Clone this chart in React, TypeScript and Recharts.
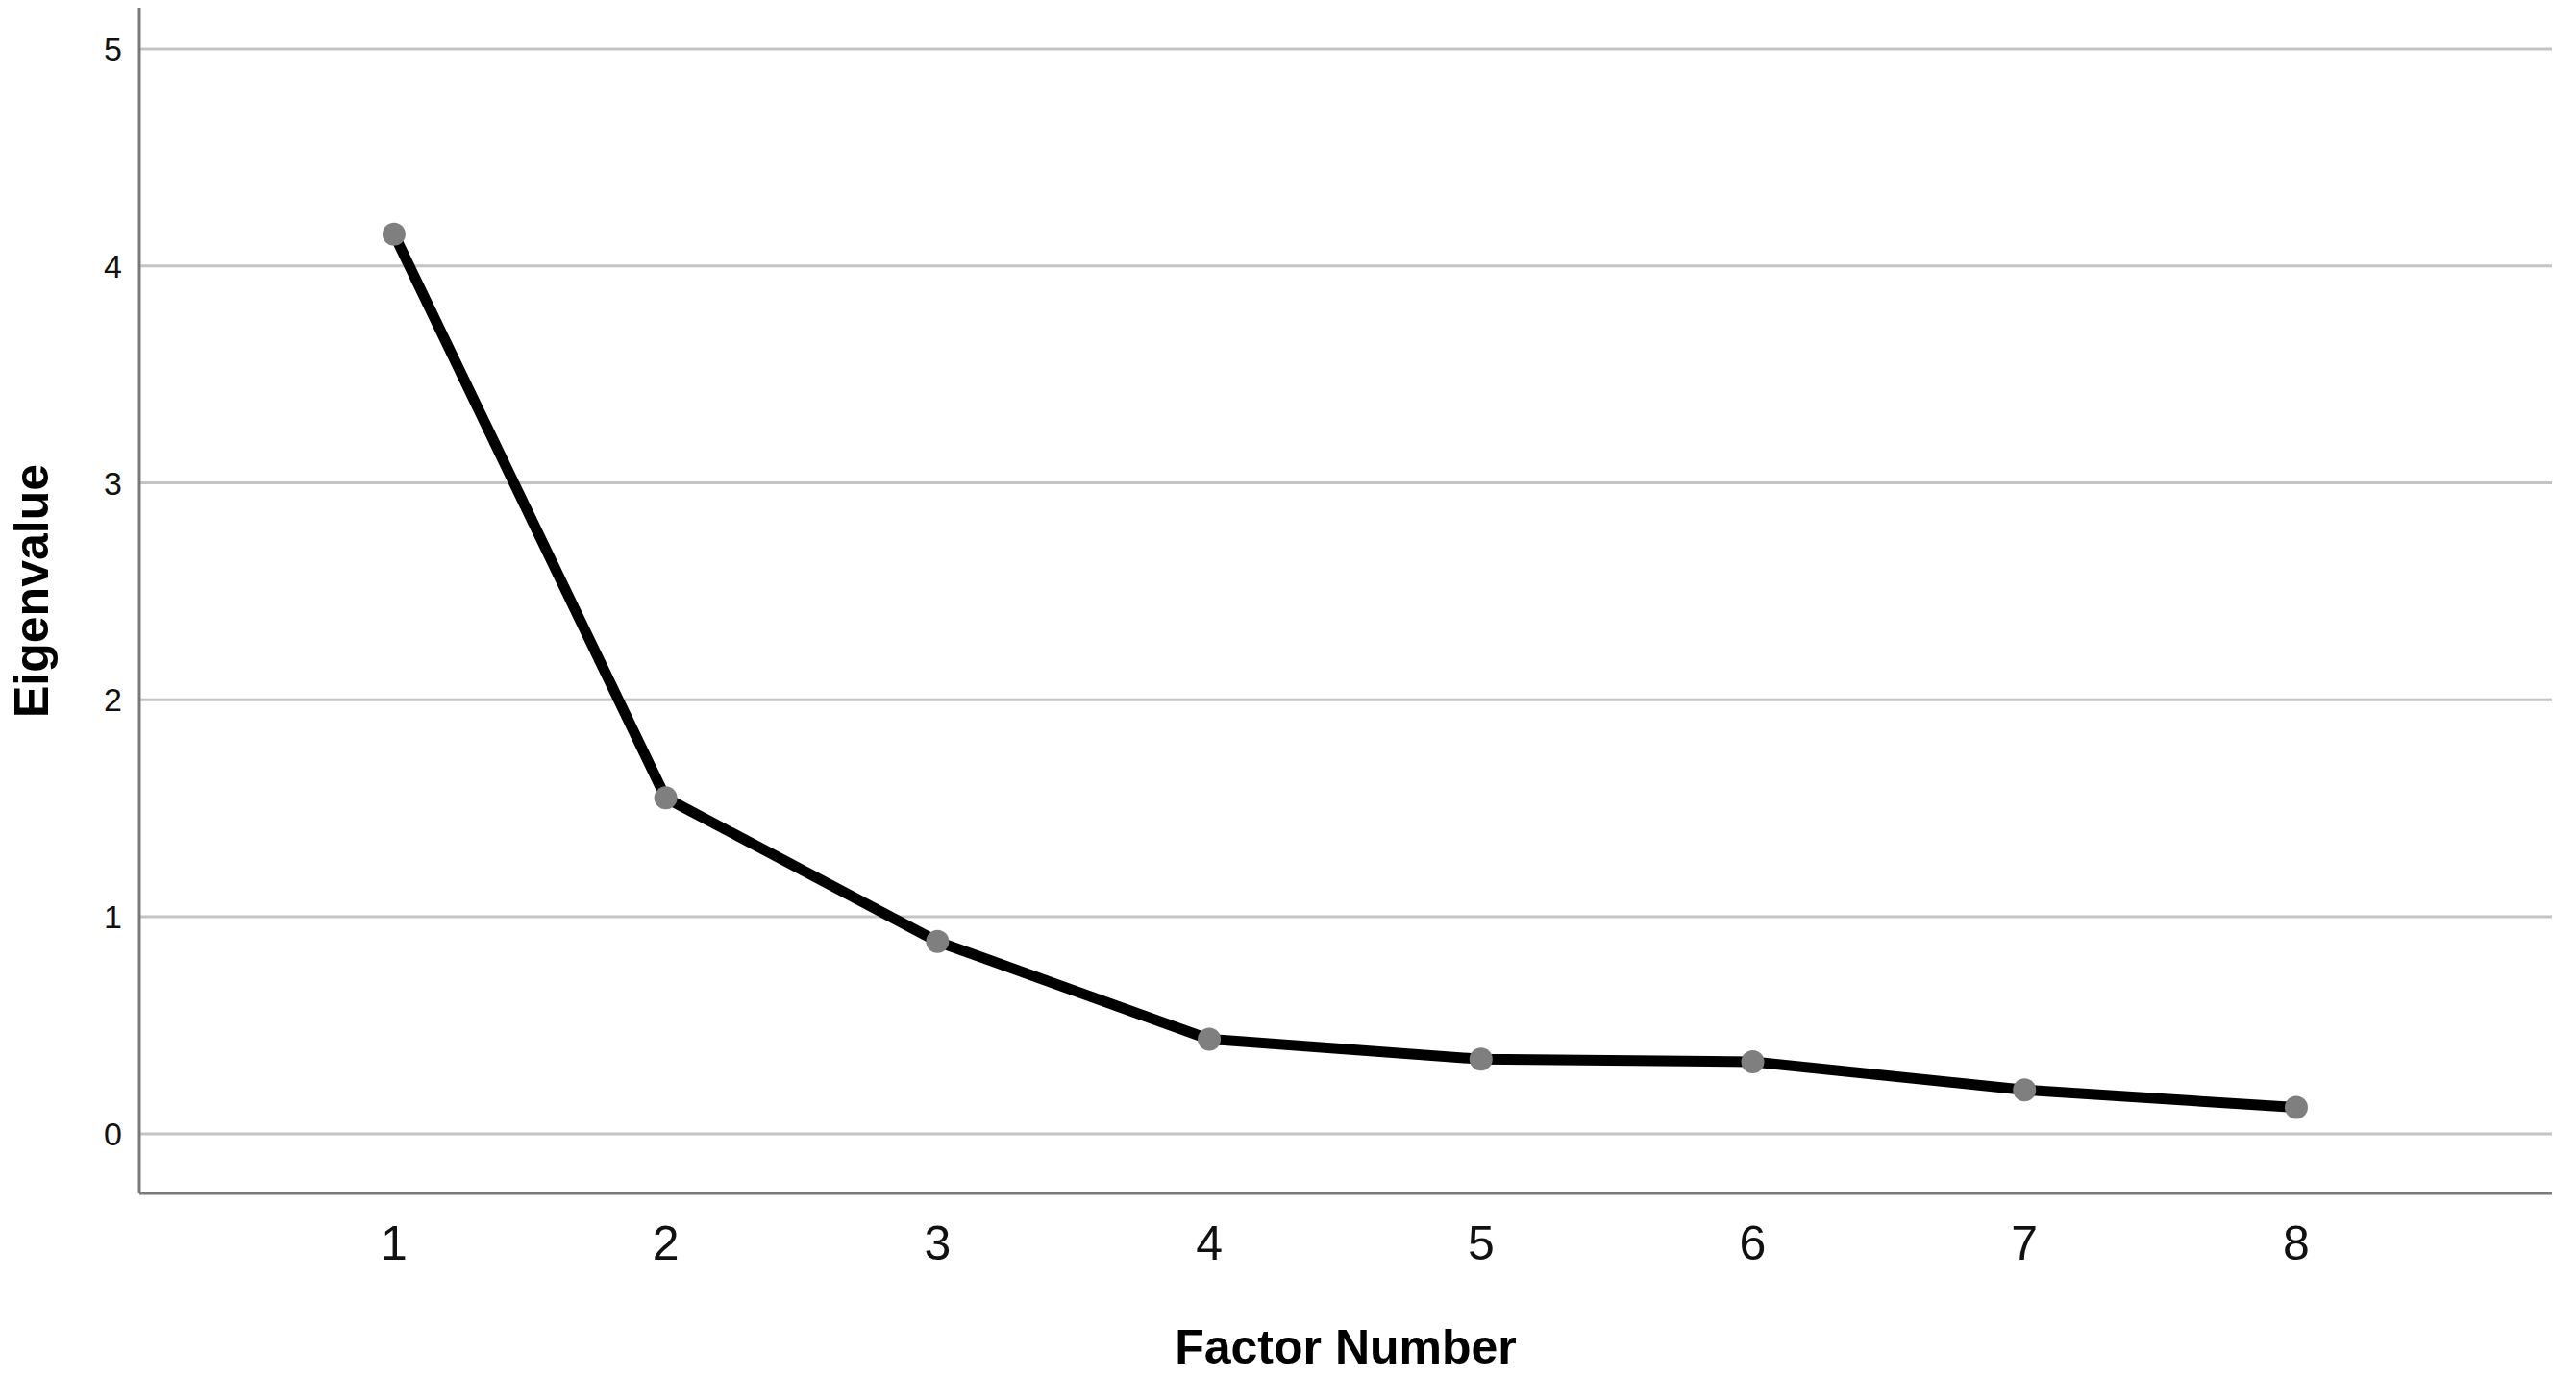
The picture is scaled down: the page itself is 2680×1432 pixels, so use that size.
import { LineChart, Line, XAxis, YAxis, CartesianGrid } from "recharts";

const FACTORS = [1, 2, 3, 4, 5, 6, 7, 8];
const EIGENVALUES = [4.146, 1.548, 0.886, 0.436, 0.344, 0.332, 0.202, 0.121];
const Y_TICKS = [0, 1, 2, 3, 4, 5];

const data = FACTORS.map((f, i) => ({ factor: f, eigen: EIGENVALUES[i] }));

const FONT = '"Liberation Sans", Arial, sans-serif';
const AXIS_COLOR = "#7a7a7a";

export default function App() {
  return (
    <div style={{ position: "absolute", left: 0, top: 0, background: "#fff" }}>
      <LineChart
        width={2680}
        height={1432}
        data={data}
        margin={{ top: 8, right: 25, bottom: 0, left: 0 }}
      >
        <CartesianGrid vertical={false} syncWithTicks stroke="#c4c4c4" strokeWidth={3} />
        <XAxis
          dataKey="factor"
          type="number"
          domain={[0.063, 8.941]}
          ticks={FACTORS}
          allowDataOverflow
          height={190}
          tickLine={false}
          tickMargin={27}
          axisLine={{ stroke: AXIS_COLOR, strokeWidth: 3 }}
          tick={{ fontSize: 50, fill: "#111", fontFamily: FONT }}
          label={{
            value: "Factor Number",
            position: "insideBottom",
            offset: 13,
            style: { fontSize: 50, fontWeight: "bold", fill: "#000", fontFamily: FONT },
          }}
        />
        <YAxis
          type="number"
          domain={[-0.275, 5.19]}
          ticks={Y_TICKS}
          allowDataOverflow
          width={145}
          tickLine={false}
          tickMargin={12}
          axisLine={{ stroke: AXIS_COLOR, strokeWidth: 3 }}
          tick={{ fontSize: 34, fill: "#111", fontFamily: FONT }}
          label={{
            content: ({ viewBox }: any) => (
              <text
                x={viewBox.x + 33}
                y={viewBox.y + viewBox.height / 2 - 10}
                transform={`rotate(-90, ${viewBox.x + 33}, ${viewBox.y + viewBox.height / 2 - 10})`}
                textAnchor="middle"
                dominantBaseline="central"
                style={{ fontSize: 50, fontWeight: "bold", fill: "#000", fontFamily: FONT }}
              >
                Eigenvalue
              </text>
            ),
          }}
        />
        <Line
          dataKey="eigen"
          type="linear"
          stroke="#000"
          strokeWidth={11}
          dot={{ r: 12, fill: "#7f7f7f", stroke: "none" }}
          activeDot={false}
          isAnimationActive={false}
        />
      </LineChart>
    </div>
  );
}
